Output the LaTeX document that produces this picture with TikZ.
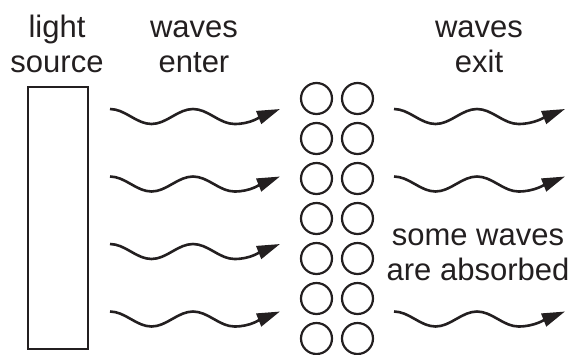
\documentclass[tikz,border=0pt]{standalone}
\usepackage{fontspec}
\setmainfont{Liberation Sans}
\usetikzlibrary{arrows.meta}
\definecolor{ink}{RGB}{35,31,32}
\tikzset{
  lbl/.style={anchor=base, inner sep=0pt, text=ink, font=\fontsize{31}{35}\selectfont},
  particle/.style={draw=ink, circle, line width=2.2pt, minimum size=31pt, inner sep=0pt},
  source/.style={draw=ink, line width=2.3pt, minimum width=60pt, minimum height=262pt, inner sep=0pt},
  wave/.style={draw=ink, line width=2.6pt, -{Triangle[length=23pt,width=13.5pt]}}
}
\begin{document}
\begin{tikzpicture}[x=1pt,y=-1pt]
\useasboundingbox (0,0) rectangle (576,354);
% labels
\node[lbl] (light) at (57,37) {light};
\node[lbl] (sourcelbl) at (57,72) {source};
\node[lbl] (wenter1) at (194,37) {waves};
\node[lbl] (wenter2) at (194,72) {enter};
\node[lbl] (wexit1) at (479,37) {waves};
\node[lbl] (wexit2) at (479,72) {exit};
\node[lbl] (absorb1) at (478,245) {some waves};
\node[lbl] (absorb2) at (478,280) {are absorbed};
% light source
\node[source] (src) at (58,218) {};
% particles
\foreach \k in {0,...,6}{
  \node[particle] (pa\k) at (316.5,98.5+40*\k) {};
  \node[particle] (pb\k) at (357.5,98.5+40*\k) {};
}
% entering waves
\foreach \i/\y in {1/109,2/176.5,3/244,4/311.5}{
  \coordinate (wL\i) at (110,\y);
  \coordinate (tL\i) at (280,\y);
  \draw[wave] (wL\i) .. controls +(15.1,0) and +(-15.1,0) .. ++(41.5,15)
    .. controls +(15.1,0) and +(-15.1,0) .. ++(41.5,-15)
    .. controls +(15.1,0) and +(-15.1,0) .. ++(41.5,15)
    .. controls +(16,0) and +(-20,8) .. (tL\i);
}
% exiting waves
\foreach \i/\y in {1/109,2/176.5,4/311.5}{
  \coordinate (wR\i) at (394,\y);
  \coordinate (tR\i) at (565,\y);
  \draw[wave] (wR\i) .. controls +(15.1,0) and +(-15.1,0) .. ++(41.5,15)
    .. controls +(15.1,0) and +(-15.1,0) .. ++(41.5,-15)
    .. controls +(15.1,0) and +(-15.1,0) .. ++(41.5,15)
    .. controls +(16,0) and +(-20,8) .. (tR\i);
}
\end{tikzpicture}
\end{document}
